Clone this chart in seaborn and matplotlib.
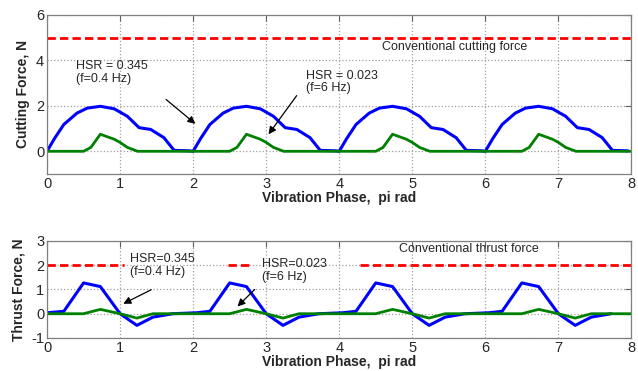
import numpy as np
import pandas as pd
import seaborn as sns
import matplotlib
matplotlib.use("Agg")
import matplotlib.pyplot as plt

sns.set_style("white")
plt.rcParams['font.family'] = ['Liberation Sans', 'DejaVu Sans']
plt.rcParams['axes.unicode_minus'] = False

# ---- data ----
cut_blue_x = [0.00, 0.10, 0.23, 0.41, 0.55, 0.73, 0.92, 1.10, 1.26, 1.42, 1.60, 1.74, 1.95,
              2.00, 2.10, 2.23, 2.41, 2.55, 2.73, 2.92, 3.10, 3.26, 3.42, 3.60, 3.74, 3.95,
              4.00, 4.10, 4.23, 4.41, 4.55, 4.73, 4.92, 5.10, 5.26, 5.42, 5.60, 5.74, 5.95,
              6.00, 6.10, 6.23, 6.41, 6.55, 6.73, 6.92, 7.10, 7.26, 7.42, 7.60, 7.74, 7.95]
cut_blue_y = [0.00, 0.55, 1.18, 1.68, 1.90, 1.98, 1.87, 1.54, 1.04, 0.96, 0.60, 0.04, 0.02,
              0.00, 0.55, 1.18, 1.68, 1.90, 1.98, 1.87, 1.54, 1.04, 0.96, 0.60, 0.04, 0.02,
              0.00, 0.55, 1.18, 1.68, 1.90, 1.98, 1.87, 1.54, 1.04, 0.96, 0.60, 0.04, 0.02,
              0.00, 0.55, 1.18, 1.68, 1.90, 1.98, 1.87, 1.54, 1.04, 0.96, 0.60, 0.04, 0.02]
cut_green_x = [0.00, 0.50, 0.60, 0.73, 0.92, 1.00, 1.10, 1.24,
               2.00, 2.50, 2.60, 2.73, 2.92, 3.00, 3.10, 3.24,
               4.00, 4.50, 4.60, 4.73, 4.92, 5.00, 5.10, 5.24,
               6.00, 6.50, 6.60, 6.73, 6.92, 7.00, 7.10, 7.24, 8.00]
cut_green_y = [0.00, 0.00, 0.17, 0.75, 0.53, 0.39, 0.17, 0.00,
               0.00, 0.00, 0.17, 0.75, 0.53, 0.39, 0.17, 0.00,
               0.00, 0.00, 0.17, 0.75, 0.53, 0.39, 0.17, 0.00,
               0.00, 0.00, 0.17, 0.75, 0.53, 0.39, 0.17, 0.00, 0.00]

thr_blue_x = [0.00, 0.23, 0.50, 0.73, 1.00, 1.23, 1.45, 1.72,
              2.05, 2.23, 2.50, 2.73, 3.00, 3.23, 3.45, 3.72,
              4.05, 4.23, 4.50, 4.73, 5.00, 5.23, 5.45, 5.72,
              6.05, 6.23, 6.50, 6.73, 7.00, 7.23, 7.45, 7.72]
thr_blue_y = [0.04, 0.10, 1.27, 1.12, 0.00, -0.48, -0.14, 0.00,
              0.04, 0.10, 1.27, 1.12, 0.00, -0.48, -0.14, 0.00,
              0.04, 0.10, 1.27, 1.12, 0.00, -0.48, -0.14, 0.00,
              0.04, 0.10, 1.27, 1.12, 0.00, -0.48, -0.14, 0.00]
thr_green_x = [0.00, 0.50, 0.73, 1.00, 1.23, 1.45,
               2.00, 2.50, 2.73, 3.00, 3.23, 3.45,
               4.00, 4.50, 4.73, 5.00, 5.23, 5.45,
               6.00, 6.50, 6.73, 7.00, 7.23, 7.45, 8.00]
thr_green_y = [0.00, 0.00, 0.18, 0.00, -0.18, 0.00,
               0.00, 0.00, 0.18, 0.00, -0.18, 0.00,
               0.00, 0.00, 0.18, 0.00, -0.18, 0.00,
               0.00, 0.00, 0.18, 0.00, -0.18, 0.00, 0.00]

conv_cut_x = [0, 8]
conv_cut_y = [5, 5]
# visible pieces of the conventional thrust line (partly hidden behind labels)
conv_thr_segments_x = [[0.0, 1.05], [2.48, 2.82], [4.28, 8.0]]
conv_thr_y = 2

x_ticks = [0, 1, 2, 3, 4, 5, 6, 7, 8]
top_yticks = [0, 2, 4, 6]
bot_yticks = [-1, 0, 1, 2, 3]

BLUE = '#0000ff'
GREEN = '#008000'
RED = '#ff0000'

fig = plt.figure(figsize=(6.38, 3.71), dpi=100)
ax1 = fig.add_axes([0.0737, 0.531, 0.916, 0.4286])
ax2 = fig.add_axes([0.0737, 0.089, 0.916, 0.2615])

def style(ax, yticks, ylim, ylabel):
    ax.set_xlim(0, 8)
    ax.set_ylim(*ylim)
    ax.set_xticks(x_ticks)
    ax.set_yticks(yticks)
    ax.grid(True, linestyle=':', color='#a0a0a0', linewidth=0.9)
    ax.tick_params(direction='in', top=True, right=True, length=4, labelsize=10.5,
                   color='#606060', pad=2)
    for s in ax.spines.values():
        s.set_color('#808080')
        s.set_linewidth(0.9)
    ax.set_xlabel('Vibration Phase,  pi rad', fontweight='bold', fontsize=10, labelpad=0)
    ax.set_ylabel(ylabel, fontweight='bold', fontsize=10, labelpad=4)

arrow = dict(arrowstyle='-|>', color='black', lw=0.9, mutation_scale=11)

# top panel
sns.lineplot(x=conv_cut_x, y=conv_cut_y, ax=ax1, color=RED, linewidth=2.0,
             linestyle=(0, (3, 1.5)), estimator=None)
sns.lineplot(x=cut_blue_x, y=cut_blue_y, ax=ax1, color=BLUE, linewidth=2.2, estimator=None)
sns.lineplot(x=cut_green_x, y=cut_green_y, ax=ax1, color=GREEN, linewidth=2.0, estimator=None)
style(ax1, top_yticks, (-1, 6), 'Cutting Force, N')

ax1.text(5.58, 4.6, 'Conventional cutting force', ha='center', va='center', fontsize=9)
ax1.text(0.39, 3.45, 'HSR = 0.345\n(f=0.4 Hz)', ha='left', va='center', fontsize=9, linespacing=1.1)
ax1.text(3.54, 3.05, 'HSR = 0.023\n(f=6 Hz)', ha='left', va='center', fontsize=9, linespacing=1.1)
ax1.annotate('', xy=(2.06, 1.13), xytext=(1.6, 2.36), arrowprops=arrow)
ax1.annotate('', xy=(3.01, 0.65), xytext=(3.44, 2.55), arrowprops=arrow)

# bottom panel
for seg in conv_thr_segments_x:
    sns.lineplot(x=seg, y=[conv_thr_y] * len(seg), ax=ax2, color=RED, linewidth=2.0,
                 linestyle=(0, (3, 1.5)), estimator=None)
sns.lineplot(x=thr_blue_x, y=thr_blue_y, ax=ax2, color=BLUE, linewidth=2.2, estimator=None)
sns.lineplot(x=thr_green_x, y=thr_green_y, ax=ax2, color=GREEN, linewidth=2.0, estimator=None)
style(ax2, bot_yticks, (-1, 3), 'Thrust Force, N')

ax2.text(5.77, 2.66, 'Conventional thrust force', ha='center', va='center', fontsize=9)
ax2.text(1.13, 1.97, 'HSR=0.345\n(f=0.4 Hz)', ha='left', va='center', fontsize=9, linespacing=1.1)
ax2.text(2.94, 1.77, 'HSR=0.023\n(f=6 Hz)', ha='left', va='center', fontsize=9, linespacing=1.1)
ax2.annotate('', xy=(1.01, 0.36), xytext=(1.46, 1.04), arrowprops=arrow)
ax2.annotate('', xy=(2.58, 0.22), xytext=(2.87, 1.08), arrowprops=arrow)

fig.savefig('out.png', dpi=100)
